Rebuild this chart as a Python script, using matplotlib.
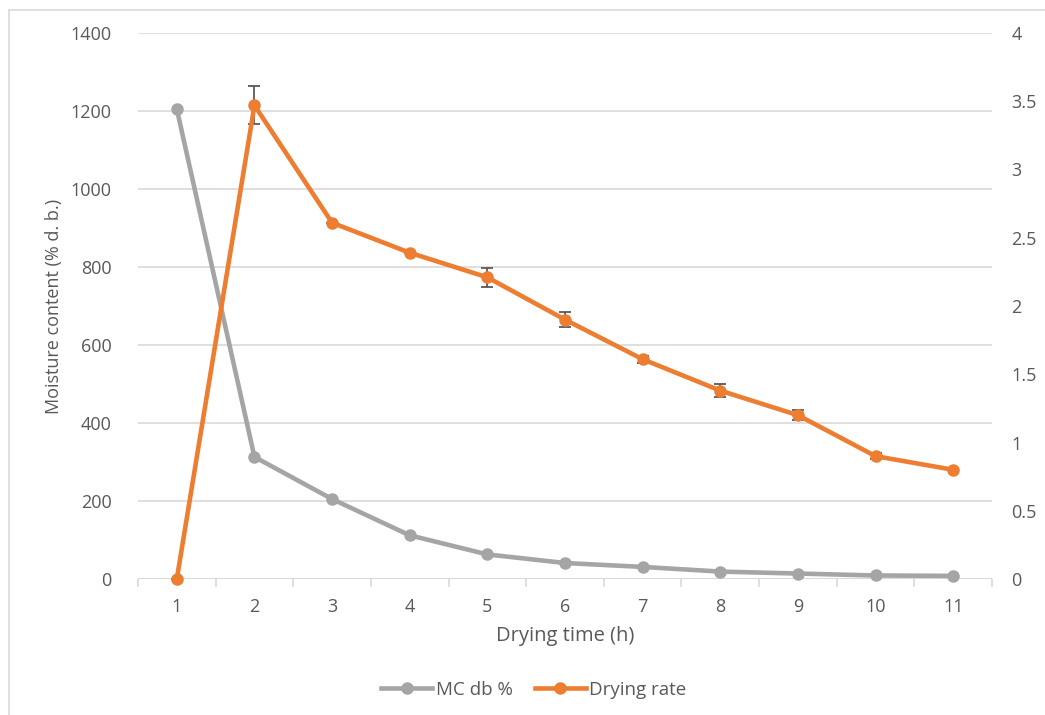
import matplotlib
matplotlib.use("Agg")
import matplotlib.pyplot as plt
from matplotlib.patches import Rectangle
from matplotlib.lines import Line2D

plt.rcParams['font.family'] = ['Open Sans', 'DejaVu Sans']

# Drying time (h)
time_h = [1, 2, 3, 4, 5, 6, 7, 8, 9, 10, 11]
time_labels = [str(t) for t in time_h]
# Moisture content, % dry basis
mc_db = [1205, 313, 205, 112, 63, 41, 31, 19, 14, 9, 8]
# Drying rate and its standard deviation
drying_rate = [0.0, 3.47, 2.61, 2.39, 2.21, 1.90, 1.61, 1.38, 1.20, 0.90, 0.80]
rate_err = [0.0, 0.14, 0.0, 0.0, 0.07, 0.055, 0.025, 0.05, 0.035, 0.02, 0.0]

left_ticks = [0, 200, 400, 600, 800, 1000, 1200, 1400]
right_ticks = [0, 0.5, 1, 1.5, 2, 2.5, 3, 3.5, 4]
right_labels = ['0', '0.5', '1', '1.5', '2', '2.5', '3', '3.5', '4']

GRAY = '#A5A5A5'
ORANGE = '#ED7D31'
GRID = '#D9D9D9'
TEXT = '#595959'

W, H = 1045, 715
fig = plt.figure(figsize=(W / 100, H / 100), dpi=100)

# chart border
fig.patches.append(Rectangle((9 / W, -0.01), 1.02, 1 - 10 / H + 0.01,
                             transform=fig.transFigure, fill=False,
                             edgecolor='#D9D9D9', linewidth=1.2))

ax = fig.add_axes([138 / W, 1 - 579 / H, (992 - 138) / W, (579 - 33) / H])
ax2 = ax.twinx()

ax.set_xlim(0.5, 11.5)
ax.set_ylim(0, 1400)
ax2.set_ylim(0, 4)

ax.set_yticks(left_ticks)
ax.set_yticklabels([str(v) for v in left_ticks])
ax2.set_yticks(right_ticks)
ax2.set_yticklabels(right_labels)
ax.set_xticks(time_h)
ax.set_xticklabels(time_labels)
ax.set_xticks([t - 0.5 for t in time_h] + [11.5], minor=True)

ax.grid(axis='y', color=GRID, linewidth=1.2)
ax.set_axisbelow(True)
for a in (ax, ax2):
    for s in ('top', 'right', 'left', 'bottom'):
        a.spines[s].set_visible(False)
ax.axhline(0, color=GRID, linewidth=1.5, zorder=1)

ax.tick_params(axis='x', which='major', length=0, pad=14, labelsize=13, labelcolor=TEXT)
ax.tick_params(axis='x', which='minor', length=6, width=1.2, color=GRID, direction='out')
ax.tick_params(axis='y', length=0, pad=19, labelsize=13, labelcolor=TEXT)
ax2.tick_params(axis='y', length=0, pad=14, labelsize=13, labelcolor=TEXT)

ax.plot(time_h, mc_db, color=GRAY, linewidth=3.3, marker='o', markersize=8,
        solid_capstyle='round', zorder=3, clip_on=False)
ax2.errorbar(time_h, drying_rate, yerr=rate_err, color=ORANGE, linewidth=3.3,
             marker='o', markersize=8, ecolor='#595959', elinewidth=1.3,
             capsize=4, capthick=1.3, zorder=3, clip_on=False)

ax.set_xlabel('Drying time (h)', fontsize=14.5, color=TEXT, labelpad=7)
ax.set_ylabel('Moisture content (% d. b.)', fontsize=13, color=TEXT)
ax.yaxis.set_label_coords((63 - 138) / 854, 0.5)

handles = [Line2D([], [], color=GRAY, linewidth=3.3, marker='o', markersize=8),
           Line2D([], [], color=ORANGE, linewidth=3.3, marker='o', markersize=8)]
fig.legend(handles, ['MC db %', 'Drying rate'], loc='center',
           bbox_to_anchor=(534 / W, 1 - 690 / H), ncol=2, frameon=False,
           fontsize=13.5, labelcolor=TEXT, handlelength=2.7, handletextpad=0.2,
           columnspacing=1.2)

fig.savefig('out.png', dpi=100)
